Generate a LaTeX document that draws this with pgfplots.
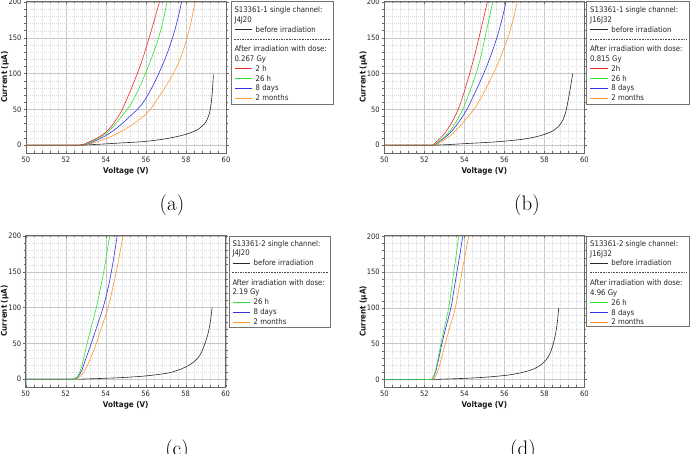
\documentclass[border=0pt]{standalone}
\usepackage{fontspec}
\setsansfont{DejaVu Sans Condensed}
\usepackage{pgfplots}
\pgfplotsset{compat=1.18}

\definecolor{cred}{RGB}{235,40,40}
\definecolor{cgreen}{RGB}{50,225,50}
\definecolor{cblue}{RGB}{50,50,225}
\definecolor{corange}{RGB}{255,150,50}
\definecolor{cblack}{RGB}{40,40,40}

\newcommand{\legfont}{\fontsize{7.7}{9}\selectfont\sffamily}
\newcommand{\legbox}[4]{\draw[draw=black!55, line width=0.8pt, fill=white] (#1pt,-#2pt) rectangle (#3pt,-#4pt);}
\newcommand{\leghead}[3]{\node[anchor=base west, inner sep=0pt, font=\legfont, text=black!85] at (#1pt,-#2pt-2.7pt) {#3};}
\newcommand{\legrow}[4]{\draw[#3, line width=0.6pt] (#1pt+0.3pt,-#2pt) -- (#1pt+17.7pt,-#2pt);
  \node[anchor=base west, inner sep=0pt, font=\legfont, text=black!85] at (#1pt+21.2pt,-#2pt-2.7pt) {#4};}
\newcommand{\legdash}[3]{\draw[black!70, line width=0.5pt, dash pattern=on 1.6pt off 1pt] (#1pt,-#3pt) -- (#2pt,-#3pt);}
\newcommand{\capt}[3]{\node[font=\fontsize{21}{25}\selectfont\rmfamily, inner sep=0pt] at (#1pt,-#2pt) {#3};}

\pgfplotsset{
  iv/.style={draw=#1, line width=0.6pt, smooth, tension=0.65, mark=none},
  ivstyle/.style={
    scale only axis, width=200pt, height=152pt, anchor=north west,
    xmin=50, xmax=60, ymin=-11, ymax=201.5,
    xtick={50,52,...,60}, ytick={0,50,...,200},
    minor x tick num=4, minor y tick num=4,
    grid=both,
    major grid style={draw=black!22, line width=0.4pt},
    minor grid style={draw=black!14, line width=0.35pt, dash pattern=on 1pt off 1pt},
    axis line style={draw=black!60, line width=0.8pt},
    tick style={draw=black!60, line width=0.4pt},
    major tick length=2.5pt, minor tick length=2pt,
    xtick align=inside, ytick align=outside,
    /pgf/number format/assume math mode=true,
    tick label style={font=\fontsize{7.5}{8}\selectfont\sffamily, text=black!85},
    yticklabel style={xshift=1.5pt},
    xticklabel style={yshift=-0.5pt},
    xlabel={Voltage (V)}, ylabel={Current (μA)},
    label style={font=\fontsize{8}{9}\selectfont\sffamily\bfseries, text=black!90},
    xlabel style={at={(axis description cs:0.5,-0.12)}, anchor=center},
    ylabel style={at={(axis description cs:-0.105,0.5)}, anchor=center},
  }
}

\begin{document}
\begin{tikzpicture}
\useasboundingbox (0pt,0pt) rectangle (690pt,-453pt);

% ---------------- (a) ----------------
\begin{axis}[ivstyle, at={(26pt,-1pt)}]
\addplot[iv=cblack] coordinates {(50,0)(52.5,0)(53.5,1)(54.7,3)(56.03,5.4)(57.2,10)(58.2,17)(58.78,26)(59.12,40)(59.28,63.6)(59.37,98.6)};
\addplot[iv=corange] coordinates {(50,0)(52,0)(52.65,0)(53.37,3)(54.62,17)(55.87,40.3)(56.55,63.6)(57.55,110.3)(58.12,156.9)(58.45,200)};
\addplot[iv=cblue] coordinates {(50,0)(52,0)(52.65,0)(53.2,3)(54.2,17)(55.2,40.3)(55.95,63.6)(56.8,110.3)(57.4,156.9)(57.78,200)};
\addplot[iv=cgreen] coordinates {(50,0)(52,0)(52.65,0)(53.12,3)(54.03,17)(54.78,40.3)(55.37,63.6)(56.12,110.3)(56.7,156.9)(57.05,200)};
\addplot[iv=cred] coordinates {(50,0)(52,0)(52.65,0)(53.03,3)(53.95,17)(54.62,40.3)(55.03,63.6)(55.7,110.3)(56.23,156.9)(56.67,200)};
\end{axis}

% ---------------- (b) ----------------
\begin{axis}[ivstyle, at={(384.3pt,-1pt)}]
\addplot[iv=cblack] coordinates {(50,0)(52.4,0)(53.95,2)(55.95,5.4)(57.29,10)(58.2,17)(58.7,26)(59.0,40)(59.2,63.6)(59.42,100)};
\addplot[iv=corange] coordinates {(50,0)(52,0)(52.45,0)(52.75,3)(53.45,17)(54.2,40.3)(54.785,63.6)(55.62,110.3)(56.25,156.9)(56.65,200)};
\addplot[iv=cblue] coordinates {(50,0)(52,0)(52.42,0)(52.65,3)(53.285,17)(53.92,40.3)(54.37,63.6)(55.12,110.3)(55.7,156.9)(56.085,200)};
\addplot[iv=cgreen] coordinates {(50,0)(52,0)(52.4,0)(52.62,3)(53.2,17)(53.75,40.3)(54.12,63.6)(54.7,110.3)(55.085,156.9)(55.42,200)};
\addplot[iv=cred] coordinates {(50,0)(52,0)(52.4,0)(52.535,3)(53.035,17)(53.535,40.3)(53.87,63.6)(54.37,110.3)(54.79,156.9)(55.15,200)};
\end{axis}

% ---------------- (c) ----------------
\begin{axis}[ivstyle, at={(25.7pt,-235pt)}]
\addplot[iv=cblack] coordinates {(50,0)(52.5,0)(53,0.3)(54,1.2)(55,2.5)(56,4.5)(57,8)(57.5,11.5)(58,17)(58.4,24)(58.7,33)(58.9,45)(59.1,62)(59.22,78)(59.32,100)};
\addplot[iv=corange] coordinates {(50,0)(52,0)(52.5,0)(52.7,3)(53,15)(53.3,33)(53.53,50)(53.8,73)(54.12,100)(54.35,127)(54.53,150)(54.7,175)(54.87,200)};
\addplot[iv=cblue] coordinates {(50,0)(52,0)(52.4,0)(52.6,3)(52.8,12)(53,28)(53.28,50)(53.6,77)(53.87,100)(54.1,125)(54.28,150)(54.45,178)(54.57,200)};
\addplot[iv=cgreen] coordinates {(50,0)(52,0)(52.45,0)(52.6,4)(52.8,18)(53.07,50)(53.3,75)(53.53,100)(53.72,125)(53.9,150)(54.05,175)(54.2,200)};
\end{axis}

% ---------------- (d) ----------------
\begin{axis}[ivstyle, at={(384.3pt,-235.3pt)}]
\addplot[iv=cblack] coordinates {(50,0)(52.3,0)(53,0.5)(54,1.5)(55,3)(56,5.5)(56.5,7.5)(57,10.5)(57.5,15)(57.9,22)(58.2,32)(58.4,45)(58.55,62)(58.65,80)(58.72,100)};
\addplot[iv=corange] coordinates {(50,0)(52,0)(52.4,0)(52.55,4)(52.75,18)(53.05,50)(53.3,75)(53.55,100)(53.72,125)(53.88,150)(54.05,175)(54.22,200)};
\addplot[iv=cblue] coordinates {(50,0)(52,0)(52.35,0)(52.5,6)(52.65,20)(52.88,50)(53.1,75)(53.33,100)(53.48,125)(53.63,150)(53.78,175)(53.92,200)};
\addplot[iv=cgreen] coordinates {(50,0)(52,0)(52.35,0)(52.5,7)(52.65,24)(52.83,50)(53,72)(53.22,100)(53.35,125)(53.47,150)(53.6,175)(53.72,200)};
\end{axis}

% ---------------- legends ----------------
% (a)
\legbox{231.7}{1.7}{333.3}{104}
\leghead{234.3}{10}{S13361-1 single channel:}
\leghead{234.3}{19.8}{J4J20}
\legrow{234.3}{29.5}{cblack}{before irradiation}
\legdash{234.3}{330.5}{39.3}
\leghead{234.3}{49.1}{After irradiation with dose:}
\leghead{234.3}{58.9}{0.267 Gy}
\legrow{234.3}{68.7}{cred}{2 h}
\legrow{234.3}{78.4}{cgreen}{26 h}
\legrow{234.3}{88.2}{cblue}{8 days}
\legrow{234.3}{98}{corange}{2 months}

% (b)
\legbox{586.7}{1.7}{689.3}{104}
\leghead{590}{10}{S13361-1 single channel:}
\leghead{590}{19.8}{J16J32}
\legrow{590}{29.5}{cblack}{before irradiation}
\legdash{590}{686.5}{39.3}
\leghead{590}{49.1}{After irradiation with dose:}
\leghead{590}{58.9}{0.815 Gy}
\legrow{590}{68.7}{cred}{2h}
\legrow{590}{78.4}{cgreen}{26 h}
\legrow{590}{88.2}{cblue}{8 days}
\legrow{590}{98}{corange}{2 months}

% (c)
\legbox{229.3}{236}{330}{327.3}
\leghead{232.3}{243.5}{S13361-2 single channel:}
\leghead{232.3}{253.1}{J4J20}
\legrow{232.3}{262.8}{cblack}{before irradiation}
\legdash{232.3}{327.5}{272.6}
\leghead{232.3}{282.4}{After irradiation with dose:}
\leghead{232.3}{292.2}{2.19 Gy}
\legrow{232.3}{302.1}{cgreen}{26 h}
\legrow{232.3}{312}{cblue}{8 days}
\legrow{232.3}{321.8}{corange}{2 months}

% (d)
\legbox{586.7}{236.5}{689.3}{326.7}
\leghead{590}{244}{S13361-2 single channel:}
\leghead{590}{253.4}{J16J32}
\legrow{590}{262.9}{cblack}{before irradiation}
\legdash{590}{686.5}{272.7}
\leghead{590}{282.6}{After irradiation with dose:}
\leghead{590}{292.3}{4.96 Gy}
\legrow{590}{302.3}{cgreen}{26 h}
\legrow{590}{312.3}{cblue}{8 days}
\legrow{590}{322}{corange}{2 months}

% ---------------- captions ----------------
\capt{172}{205}{(a)}
\capt{527}{205}{(b)}
\capt{177}{450}{(c)}
\capt{523}{450}{(d)}
\end{tikzpicture}
\end{document}
